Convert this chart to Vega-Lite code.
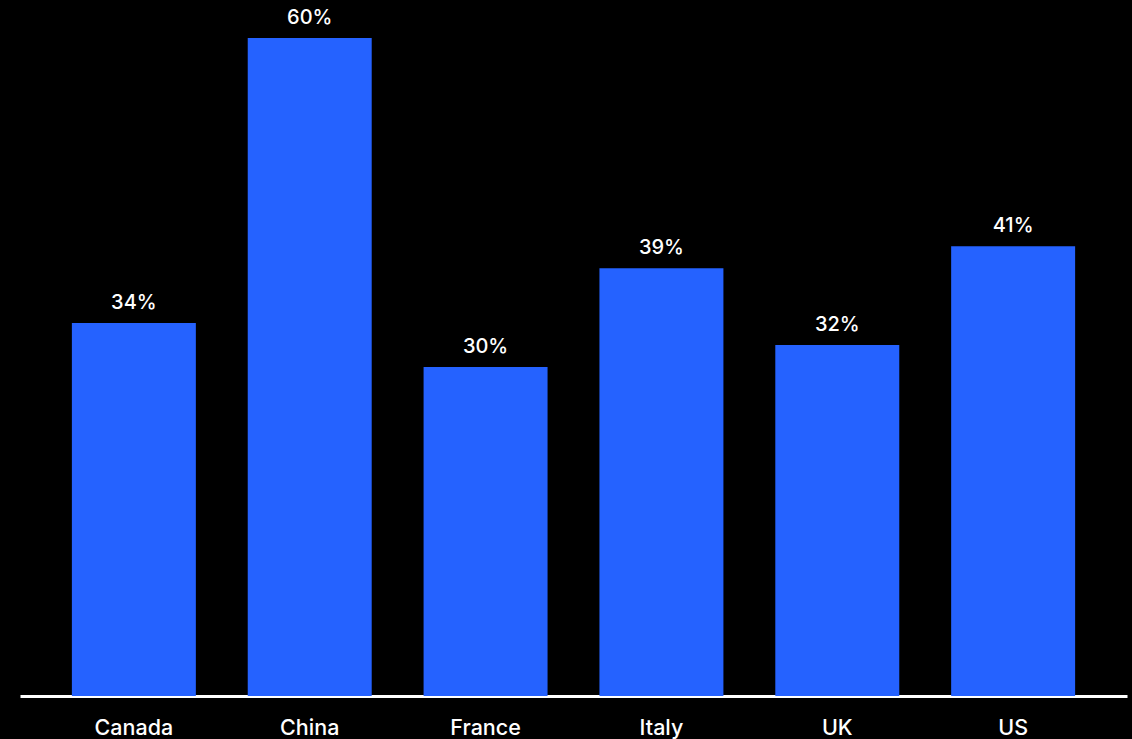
{
  "$schema": "https://vega.github.io/schema/vega-lite/v6.json",
  "width": 1107,
  "height": 696,
  "autosize": {"type": "none"},
  "padding": {"left": 20, "top": 0, "right": 5, "bottom": 43},
  "background": "#000000",
  "config": {"view": {"stroke": null}, "font": "Inter"},
  "data": {"values": [
    {"country": "Canada", "value": 34, "label": "34%"},
    {"country": "China", "value": 60, "label": "60%"},
    {"country": "France", "value": 30, "label": "30%"},
    {"country": "Italy", "value": 39, "label": "39%"},
    {"country": "UK", "value": 32, "label": "32%"},
    {"country": "US", "value": 41, "label": "41%"}
  ]},
  "encoding": {
    "x": {"field": "country", "type": "nominal", "sort": null,
      "scale": {"paddingInner": 0.295, "paddingOuter": 0.295},
      "axis": {"title": null, "labelAngle": 0, "labelColor": "#ffffff", "labelFontSize": 21.5, "labelFontWeight": 500,
        "labelPadding": 21, "ticks": false, "domainColor": "#ffffff", "domainWidth": 3, "grid": false}},
    "y": {"field": "value", "type": "quantitative", "scale": {"domain": [0, 63.46], "nice": false}, "axis": null}
  },
  "layer": [
    {"mark": {"type": "bar", "color": "#2562FF"}},
    {"mark": {"type": "text", "color": "#ffffff", "fontSize": 20, "fontWeight": 500, "baseline": "bottom", "dy": -10},
      "encoding": {"text": {"field": "label", "type": "nominal"}}}
  ]
}
